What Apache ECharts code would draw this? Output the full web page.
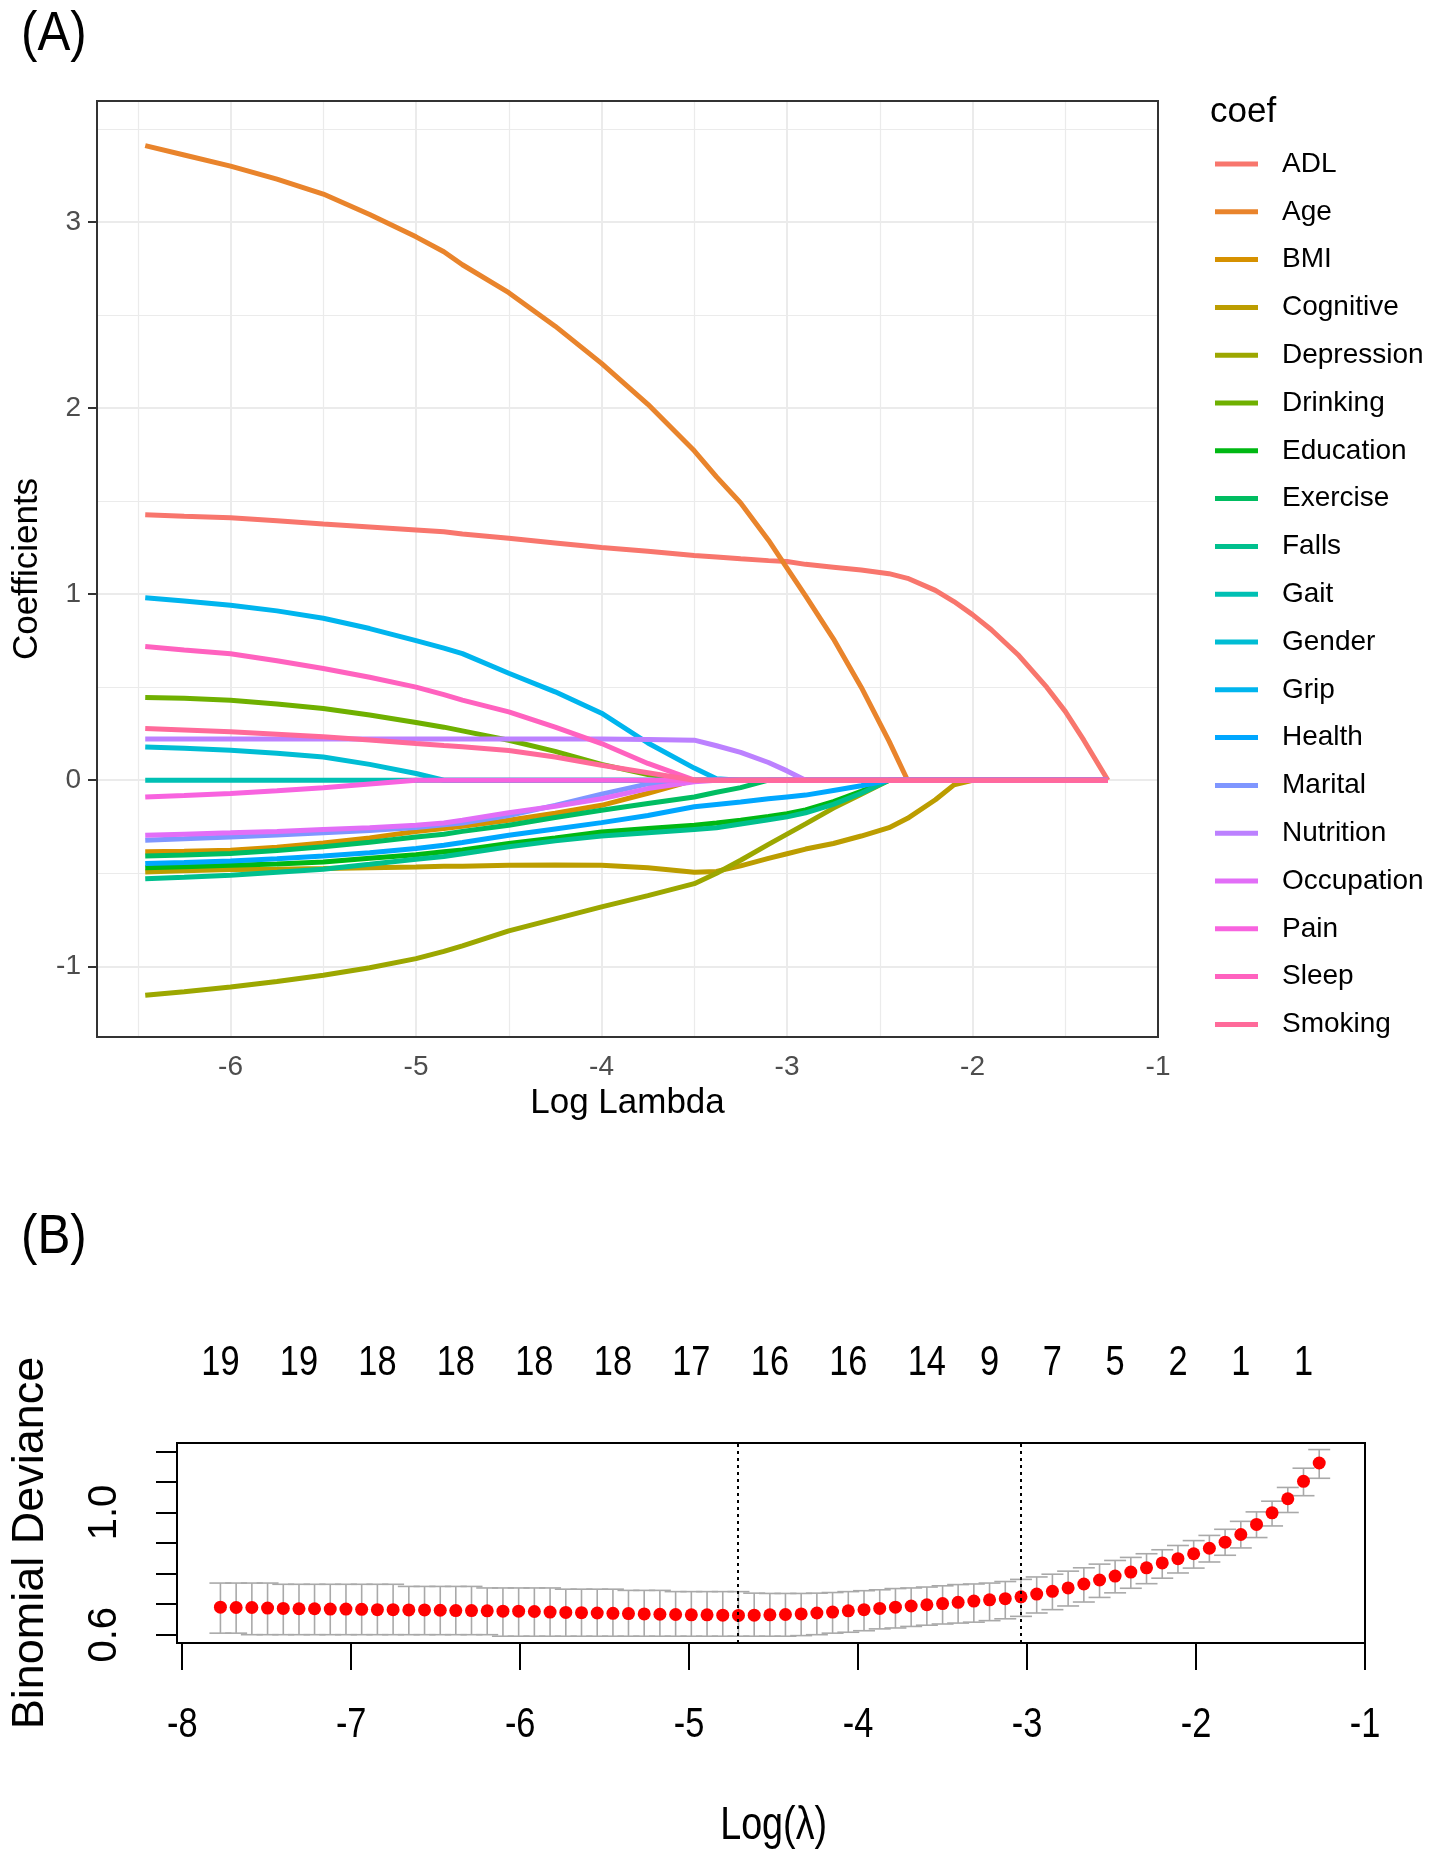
<!DOCTYPE html>
<html>
<head>
<meta charset="utf-8">
<script src="https://cdn.jsdelivr.net/npm/echarts@6.0.0/dist/echarts.min.js"></script>
<style>
  html, body { margin: 0; padding: 0; background: #fff; }
  #chart { width: 1430px; height: 1856px; }
</style>
</head>
<body>
<div id="chart"></div>
<script>
// ---------- (A) coefficient paths ----------
const logLambda = [-6.46, -6.25, -6.0, -5.75, -5.5, -5.25, -5.0, -4.85, -4.75, -4.5, -4.25, -4.0, -3.75, -3.5, -3.38, -3.25,
  -3.1, -3.0, -2.9, -2.75, -2.6, -2.45, -2.35, -2.2, -2.1, -2.0, -1.9, -1.75, -1.6, -1.5, -1.4, -1.27]

const coefNames = ['ADL', 'Age', 'BMI', 'Cognitive', 'Depression', 'Drinking', 'Education', 'Exercise', 'Falls', 'Gait',
  'Gender', 'Grip', 'Health', 'Marital', 'Nutrition', 'Occupation', 'Pain', 'Sleep', 'Smoking']

// one row per coefficient, values at logLambda
const coefValues = [
  [1.426, 1.418, 1.41, 1.394, 1.377, 1.361, 1.345, 1.335, 1.323, 1.30, 1.275, 1.25, 1.23, 1.207, 1.20, 1.19, 1.18, 1.175, 1.16, 1.145, 1.13, 1.11, 1.085, 1.02, 0.96, 0.89, 0.81, 0.67, 0.50, 0.37, 0.215, 0],
  [3.41, 3.36, 3.30, 3.23, 3.15, 3.04, 2.92, 2.84, 2.77, 2.62, 2.44, 2.24, 2.02, 1.77, 1.63, 1.49, 1.29, 1.14, 0.99, 0.76, 0.50, 0.21, 0, 0, 0, 0, 0, 0, 0, 0, 0, 0],
  [-0.385, -0.382, -0.376, -0.36, -0.337, -0.31, -0.276, -0.26, -0.248, -0.215, -0.178, -0.135, -0.07, 0, 0, 0, 0, 0, 0, 0, 0, 0, 0, 0, 0, 0, 0, 0, 0, 0, 0, 0],
  [-0.493, -0.487, -0.48, -0.478, -0.475, -0.47, -0.466, -0.463, -0.462, -0.457, -0.456, -0.457, -0.47, -0.495, -0.49, -0.46, -0.42, -0.395, -0.37, -0.34, -0.30, -0.255, -0.205, -0.105, -0.025, 0, 0, 0, 0, 0, 0, 0],
  [-1.156, -1.137, -1.111, -1.082, -1.048, -1.008, -0.959, -0.92, -0.89, -0.81, -0.745, -0.681, -0.62, -0.556, -0.50, -0.43, -0.345, -0.29, -0.235, -0.15, -0.075, 0, 0, 0, 0, 0, 0, 0, 0, 0, 0, 0],
  [0.445, 0.44, 0.43, 0.41, 0.385, 0.35, 0.31, 0.285, 0.265, 0.215, 0.155, 0.085, 0.03, 0, 0, 0, 0, 0, 0, 0, 0, 0, 0, 0, 0, 0, 0, 0, 0, 0, 0, 0],
  [-0.47, -0.465, -0.457, -0.45, -0.44, -0.42, -0.40, -0.385, -0.375, -0.34, -0.31, -0.278, -0.26, -0.242, -0.23, -0.215, -0.195, -0.18, -0.16, -0.115, -0.06, 0, 0, 0, 0, 0, 0, 0, 0, 0, 0, 0],
  [-0.407, -0.402, -0.394, -0.378, -0.358, -0.333, -0.305, -0.29, -0.275, -0.242, -0.20, -0.161, -0.125, -0.09, -0.065, -0.04, 0, 0, 0, 0, 0, 0, 0, 0, 0, 0, 0, 0, 0, 0, 0, 0],
  [-0.529, -0.521, -0.511, -0.495, -0.478, -0.452, -0.425, -0.41, -0.395, -0.358, -0.326, -0.30, -0.283, -0.265, -0.255, -0.235, -0.212, -0.197, -0.175, -0.13, -0.07, 0, 0, 0, 0, 0, 0, 0, 0, 0, 0, 0],
  [0, 0, 0, 0, 0, 0, 0, 0, 0, 0, 0, 0, 0, 0, 0, 0, 0, 0, 0, 0, 0, 0, 0, 0, 0, 0, 0, 0, 0, 0, 0, 0],
  [0.179, 0.172, 0.161, 0.145, 0.125, 0.085, 0.036, 0, 0, 0, 0, 0, 0, 0, 0, 0, 0, 0, 0, 0, 0, 0, 0, 0, 0, 0, 0, 0, 0, 0, 0, 0],
  [0.98, 0.963, 0.94, 0.91, 0.87, 0.815, 0.75, 0.71, 0.68, 0.575, 0.475, 0.36, 0.20, 0.065, 0.008, 0, 0, 0, 0, 0, 0, 0, 0, 0, 0, 0, 0, 0, 0, 0, 0, 0],
  [-0.448, -0.442, -0.434, -0.422, -0.407, -0.39, -0.367, -0.35, -0.335, -0.296, -0.262, -0.228, -0.19, -0.143, -0.13, -0.117, -0.10, -0.09, -0.08, -0.055, -0.03, 0, 0, 0, 0, 0, 0, 0, 0, 0, 0, 0],
  [-0.323, -0.315, -0.305, -0.295, -0.283, -0.27, -0.254, -0.24, -0.23, -0.19, -0.135, -0.075, -0.02, 0, 0, 0, 0, 0, 0, 0, 0, 0, 0, 0, 0, 0, 0, 0, 0, 0, 0, 0],
  [0.222, 0.222, 0.222, 0.222, 0.222, 0.222, 0.222, 0.222, 0.222, 0.222, 0.222, 0.221, 0.219, 0.215, 0.185, 0.15, 0.095, 0.05, 0, 0, 0, 0, 0, 0, 0, 0, 0, 0, 0, 0, 0, 0],
  [-0.296, -0.29, -0.283, -0.275, -0.265, -0.255, -0.242, -0.23, -0.215, -0.175, -0.14, -0.10, -0.045, -0.008, 0, 0, 0, 0, 0, 0, 0, 0, 0, 0, 0, 0, 0, 0, 0, 0, 0, 0],
  [-0.09, -0.082, -0.072, -0.057, -0.04, -0.02, 0, 0, 0, 0, 0, 0, 0, 0, 0, 0, 0, 0, 0, 0, 0, 0, 0, 0, 0, 0, 0, 0, 0, 0, 0, 0],
  [0.718, 0.70, 0.68, 0.642, 0.60, 0.553, 0.50, 0.46, 0.43, 0.367, 0.285, 0.197, 0.09, 0, 0, 0, 0, 0, 0, 0, 0, 0, 0, 0, 0, 0, 0, 0, 0, 0, 0, 0],
  [0.278, 0.27, 0.26, 0.247, 0.233, 0.216, 0.197, 0.186, 0.18, 0.16, 0.125, 0.08, 0.04, 0, 0, 0, 0, 0, 0, 0, 0, 0, 0, 0, 0, 0, 0, 0, 0, 0, 0, 0]
]

const pathXTicks = [-6, -5, -4, -3, -2, -1]
const pathYTicks = [-1, 0, 1, 2, 3]
const pathXMinor = [-6.5, -5.5, -4.5, -3.5, -2.5, -1.5]
const pathYMinor = [-0.5, 0.5, 1.5, 2.5, 3.5]

// ---------- (B) cross-validation curve ----------
const cvLambda = [
  -7.774, -7.681, -7.588, -7.495, -7.402, -7.309, -7.217, -7.124, -7.031, -6.938,
  -6.845, -6.752, -6.659, -6.566, -6.473, -6.381, -6.288, -6.195, -6.102, -6.009,
  -5.916, -5.823, -5.730, -5.637, -5.544, -5.451, -5.359, -5.266, -5.173, -5.080,
  -4.987, -4.894, -4.801, -4.708, -4.615, -4.522, -4.430, -4.337, -4.244, -4.151,
  -4.058, -3.965, -3.872, -3.779, -3.686, -3.593, -3.500, -3.408, -3.315, -3.222,
  -3.129, -3.036, -2.943, -2.850, -2.757, -2.664, -2.571, -2.479, -2.386, -2.293,
  -2.200, -2.107, -2.014, -1.921, -1.828, -1.735, -1.642, -1.550, -1.457, -1.364,
  -1.271
]
const cvMean = [
  0.690, 0.689, 0.689, 0.687, 0.686, 0.685, 0.685, 0.684, 0.684, 0.683,
  0.682, 0.682, 0.681, 0.681, 0.680, 0.679, 0.679, 0.678, 0.677, 0.677,
  0.676, 0.674, 0.673, 0.672, 0.671, 0.670, 0.669, 0.668, 0.667, 0.666,
  0.665, 0.665, 0.664, 0.663, 0.664, 0.665, 0.666, 0.668, 0.671, 0.674,
  0.678, 0.682, 0.686, 0.690, 0.694, 0.698, 0.702, 0.706, 0.710, 0.714,
  0.718, 0.724, 0.733, 0.742, 0.753, 0.766, 0.779, 0.792, 0.805, 0.819,
  0.835, 0.849, 0.865, 0.883, 0.903, 0.928, 0.961, 0.999, 1.045, 1.102,
  1.162
]
const cvUpper = [
  0.769, 0.769, 0.769, 0.769, 0.765, 0.765, 0.765, 0.765, 0.765, 0.765,
  0.765, 0.765, 0.758, 0.758, 0.758, 0.758, 0.758, 0.753, 0.753, 0.753,
  0.753, 0.753, 0.749, 0.749, 0.749, 0.749, 0.745, 0.745, 0.745, 0.741,
  0.741, 0.741, 0.741, 0.741, 0.736, 0.735, 0.735, 0.735, 0.736, 0.738,
  0.741, 0.744, 0.747, 0.751, 0.753, 0.756, 0.760, 0.764, 0.766, 0.769,
  0.774, 0.781, 0.789, 0.798, 0.808, 0.819, 0.831, 0.843, 0.853, 0.865,
  0.878, 0.892, 0.908, 0.925, 0.945, 0.971, 1.002, 1.037, 1.082, 1.145,
  1.206
]
const cvLower = [
  0.605, 0.605, 0.600, 0.600, 0.600, 0.600, 0.600, 0.600, 0.600, 0.600,
  0.600, 0.600, 0.600, 0.600, 0.600, 0.600, 0.600, 0.600, 0.595, 0.595,
  0.595, 0.595, 0.595, 0.595, 0.595, 0.595, 0.595, 0.595, 0.595, 0.595,
  0.595, 0.595, 0.595, 0.595, 0.595, 0.595, 0.595, 0.597, 0.600, 0.605,
  0.608, 0.613, 0.619, 0.622, 0.627, 0.631, 0.635, 0.638, 0.641, 0.646,
  0.652, 0.660, 0.671, 0.682, 0.694, 0.707, 0.722, 0.737, 0.752, 0.767,
  0.785, 0.802, 0.818, 0.838, 0.860, 0.884, 0.918, 0.956, 1.000, 1.055,
  1.112
]
// number of non-zero coefficients printed along the top
const nzAt = [-7.774, -7.309, -6.845, -6.381, -5.916, -5.451, -4.987, -4.522, -4.058, -3.593, -3.222, -2.850, -2.479, -2.107, -1.735, -1.364]
const nzCount = ['19', '19', '18', '18', '18', '18', '17', '16', '16', '14', '9', '7', '5', '2', '1', '1']
// lambda.min and lambda.1se
const lambdaMarks = [-4.708, -3.036]
const cvXTicks = [-8, -7, -6, -5, -4, -3, -2, -1]
const cvYTicks = [0.6, 0.7, 0.8, 0.9, 1.0, 1.1, 1.2]
const cvYLabels = [0.6, 1.0]

// ggplot2 hue palette: hcl(h, c = 100, l = 65)
function hcl (h, c, l) {
  const hr = h * Math.PI / 180
  const u = c * Math.cos(hr)
  const v = c * Math.sin(hr)
  const Y = Math.pow((l + 16) / 116, 3)
  const up = u / (13 * l) + 0.1978398
  const vp = v / (13 * l) + 0.4683363
  const X = Y * 9 * up / (4 * vp)
  const Z = Y * (12 - 3 * up - 20 * vp) / (4 * vp)
  const lin = [
    3.2404542 * X - 1.5371385 * Y - 0.4985314 * Z,
    -0.9692660 * X + 1.8760108 * Y + 0.0415560 * Z,
    0.0556434 * X - 0.2040259 * Y + 1.0572252 * Z
  ]
  return '#' + lin.map(c => {
    c = Math.min(1, Math.max(0, c))
    c = c <= 0.0031308 ? 12.92 * c : 1.055 * Math.pow(c, 1 / 2.4) - 0.055
    return Math.round(c * 255).toString(16).padStart(2, '0')
  }).join('')
}
const palette = coefNames.map((n, i) => hcl(15 + i * 360 / coefNames.length, 100, 65))

const sans = "'Liberation Sans', Arial, sans-serif"
const gridColor = '#EBEBEB'

const myChart = echarts.init(document.getElementById('chart'))

// gridlines of panel A
const gridLines = [
  ...pathXTicks.map(v => ({ xAxis: v, lineStyle: { width: 2 } })),
  ...pathYTicks.map(v => ({ yAxis: v, lineStyle: { width: 2 } })),
  ...pathXMinor.map(v => ({ xAxis: v, lineStyle: { width: 1.2 } })),
  ...pathYMinor.map(v => ({ yAxis: v, lineStyle: { width: 1.2 } }))
]

const coefSeries = coefNames.map((name, i) => ({
  name,
  type: 'line',
  xAxisIndex: 0,
  yAxisIndex: 0,
  data: logLambda.map((x, j) => [x, coefValues[i][j]]),
  symbol: 'none',
  color: palette[i],
  lineStyle: { width: 5, color: palette[i] },
  z: 3
}))

const option = {
  animation: false,
  backgroundColor: '#fff',
  title: [
    { text: 'coef', left: 1210, top: 95, padding: 0, textStyle: { fontSize: 35, fontWeight: 'normal', fontFamily: sans, color: '#000' } }
  ],
  legend: {
    data: coefNames,
    orient: 'vertical',
    left: 1215,
    top: 150,
    padding: 0,
    icon: 'rect',
    itemWidth: 43,
    itemHeight: 5,
    itemGap: 19.8,
    selectedMode: false,
    textStyle: { fontSize: 28, lineHeight: 28, fontFamily: sans, color: '#000', padding: [0, 0, 0, 19] }
  },
  grid: [
    { left: 97, top: 101, width: 1061, height: 936, show: true, borderColor: '#333', borderWidth: 2, backgroundColor: 'transparent', z: 10 },
    { left: 175.5, top: 1443, width: 1189.5, height: 200, show: true, borderColor: '#000', borderWidth: 2, backgroundColor: 'transparent', z: 10 }
  ],
  xAxis: [
    {
      type: 'value',
      gridIndex: 0,
      min: -6.72,
      max: -1.0,
      axisLine: { show: false },
      axisTick: { customValues: pathXTicks, length: 9, lineStyle: { color: '#333', width: 2 } },
      axisLabel: { customValues: pathXTicks, margin: 16, fontSize: 28, color: '#4D4D4D', fontFamily: sans },
      splitLine: { show: false },
      name: 'Log Lambda',
      nameLocation: 'middle',
      nameGap: 34,
      nameTextStyle: { fontSize: 35, color: '#000', fontFamily: sans }
    },
    {
      type: 'value',
      gridIndex: 1,
      min: -8.031,
      max: -1.0,
      axisLine: { show: false },
      axisTick: { customValues: cvXTicks, length: 27, lineStyle: { color: '#000', width: 2 } },
      // labels drawn below as condensed graphic text
      axisLabel: { show: false },
      splitLine: { show: false }
    }
  ],
  yAxis: [
    {
      type: 'value',
      gridIndex: 0,
      min: -1.38,
      max: 3.65,
      axisLine: { show: false },
      axisTick: { customValues: pathYTicks, length: 9, lineStyle: { color: '#333', width: 2 } },
      axisLabel: { customValues: pathYTicks, margin: 16, fontSize: 28, color: '#4D4D4D', fontFamily: sans },
      splitLine: { show: false },
      name: 'Coefficients',
      nameLocation: 'middle',
      nameRotate: 90,
      nameGap: 45,
      nameTextStyle: { fontSize: 35, color: '#000', fontFamily: sans }
    },
    {
      type: 'value',
      gridIndex: 1,
      min: 0.5728,
      max: 1.2275,
      axisLine: { show: false },
      axisTick: { customValues: cvYTicks, length: 21, lineStyle: { color: '#000', width: 2 } },
      axisLabel: {
        customValues: cvYLabels,
        rotate: 90,
        margin: 52,
        fontSize: 40,
        color: '#000',
        fontFamily: sans,
        formatter: v => v.toFixed(1)
      },
      splitLine: { show: false },
      name: 'Binomial Deviance',
      nameLocation: 'middle',
      nameRotate: 90,
      nameGap: 124,
      nameTextStyle: { fontSize: 45, color: '#000', fontFamily: sans }
    }
  ],
  series: [
    {
      // background grid of panel A
      type: 'line',
      xAxisIndex: 0,
      yAxisIndex: 0,
      data: [],
      silent: true,
      z: 1,
      markLine: {
        silent: true,
        z: 1,
        symbol: 'none',
        label: { show: false },
        lineStyle: { color: gridColor, type: 'solid' },
        data: gridLines
      }
    },
    ...coefSeries,
    {
      // error bars
      type: 'custom',
      xAxisIndex: 1,
      yAxisIndex: 1,
      data: cvLambda.map((x, i) => [x, cvLower[i], cvUpper[i]]),
      encode: { x: 0, y: [1, 2] },
      z: 2,
      renderItem: (params, api) => {
        const x = api.value(0)
        const lo = api.value(1)
        const hi = api.value(2)
        const capHalf = 0.065
        const pLo = api.coord([x, lo])
        const pHi = api.coord([x, hi])
        const capL = api.coord([x - capHalf, lo])[0]
        const capR = api.coord([x + capHalf, lo])[0]
        const style = { stroke: '#A9A9A9', lineWidth: 1.6 }
        return {
          type: 'group',
          children: [
            { type: 'line', shape: { x1: pLo[0], y1: pLo[1], x2: pHi[0], y2: pHi[1] }, style },
            { type: 'line', shape: { x1: capL, y1: pLo[1], x2: capR, y2: pLo[1] }, style },
            { type: 'line', shape: { x1: capL, y1: pHi[1], x2: capR, y2: pHi[1] }, style }
          ]
        }
      }
    },
    {
      type: 'scatter',
      xAxisIndex: 1,
      yAxisIndex: 1,
      data: cvLambda.map((x, i) => [x, cvMean[i]]),
      symbol: 'circle',
      symbolSize: 13,
      itemStyle: { color: '#FF0000', opacity: 1 },
      z: 3,
      markLine: {
        silent: true,
        symbol: 'none',
        label: { show: false },
        lineStyle: { color: '#000', type: [3, 4], width: 2 },
        data: lambdaMarks.map(v => ({ xAxis: v }))
      }
    }
  ]
}

myChart.setOption(option)

// condensed texts of the base-R panel, placed through the axis scale
const narrowText = (text, x, y, size, align, squeeze) => ({
  type: 'text',
  x,
  y,
  scaleX: squeeze,
  silent: true,
  style: { text, fontSize: size, fontFamily: sans, fill: '#000', align, verticalAlign: 'middle' }
})
const cvX = v => myChart.convertToPixel({ xAxisIndex: 1 }, v)

myChart.setOption({
  graphic: [
    narrowText('(A)', 21, 35, 56, 'left', 0.88),
    narrowText('(B)', 21, 1238, 56, 'left', 0.88),
    ...cvXTicks.map(v => narrowText(String(v), cvX(v), 1725, 43, 'center', 0.8)),
    ...nzAt.map((v, i) => narrowText(nzCount[i], cvX(v), 1363, 43, 'center', 0.8)),
    narrowText('Log(λ)', cvX(-4.5), 1826, 46, 'center', 0.82)
  ]
})
</script>
</body>
</html>
